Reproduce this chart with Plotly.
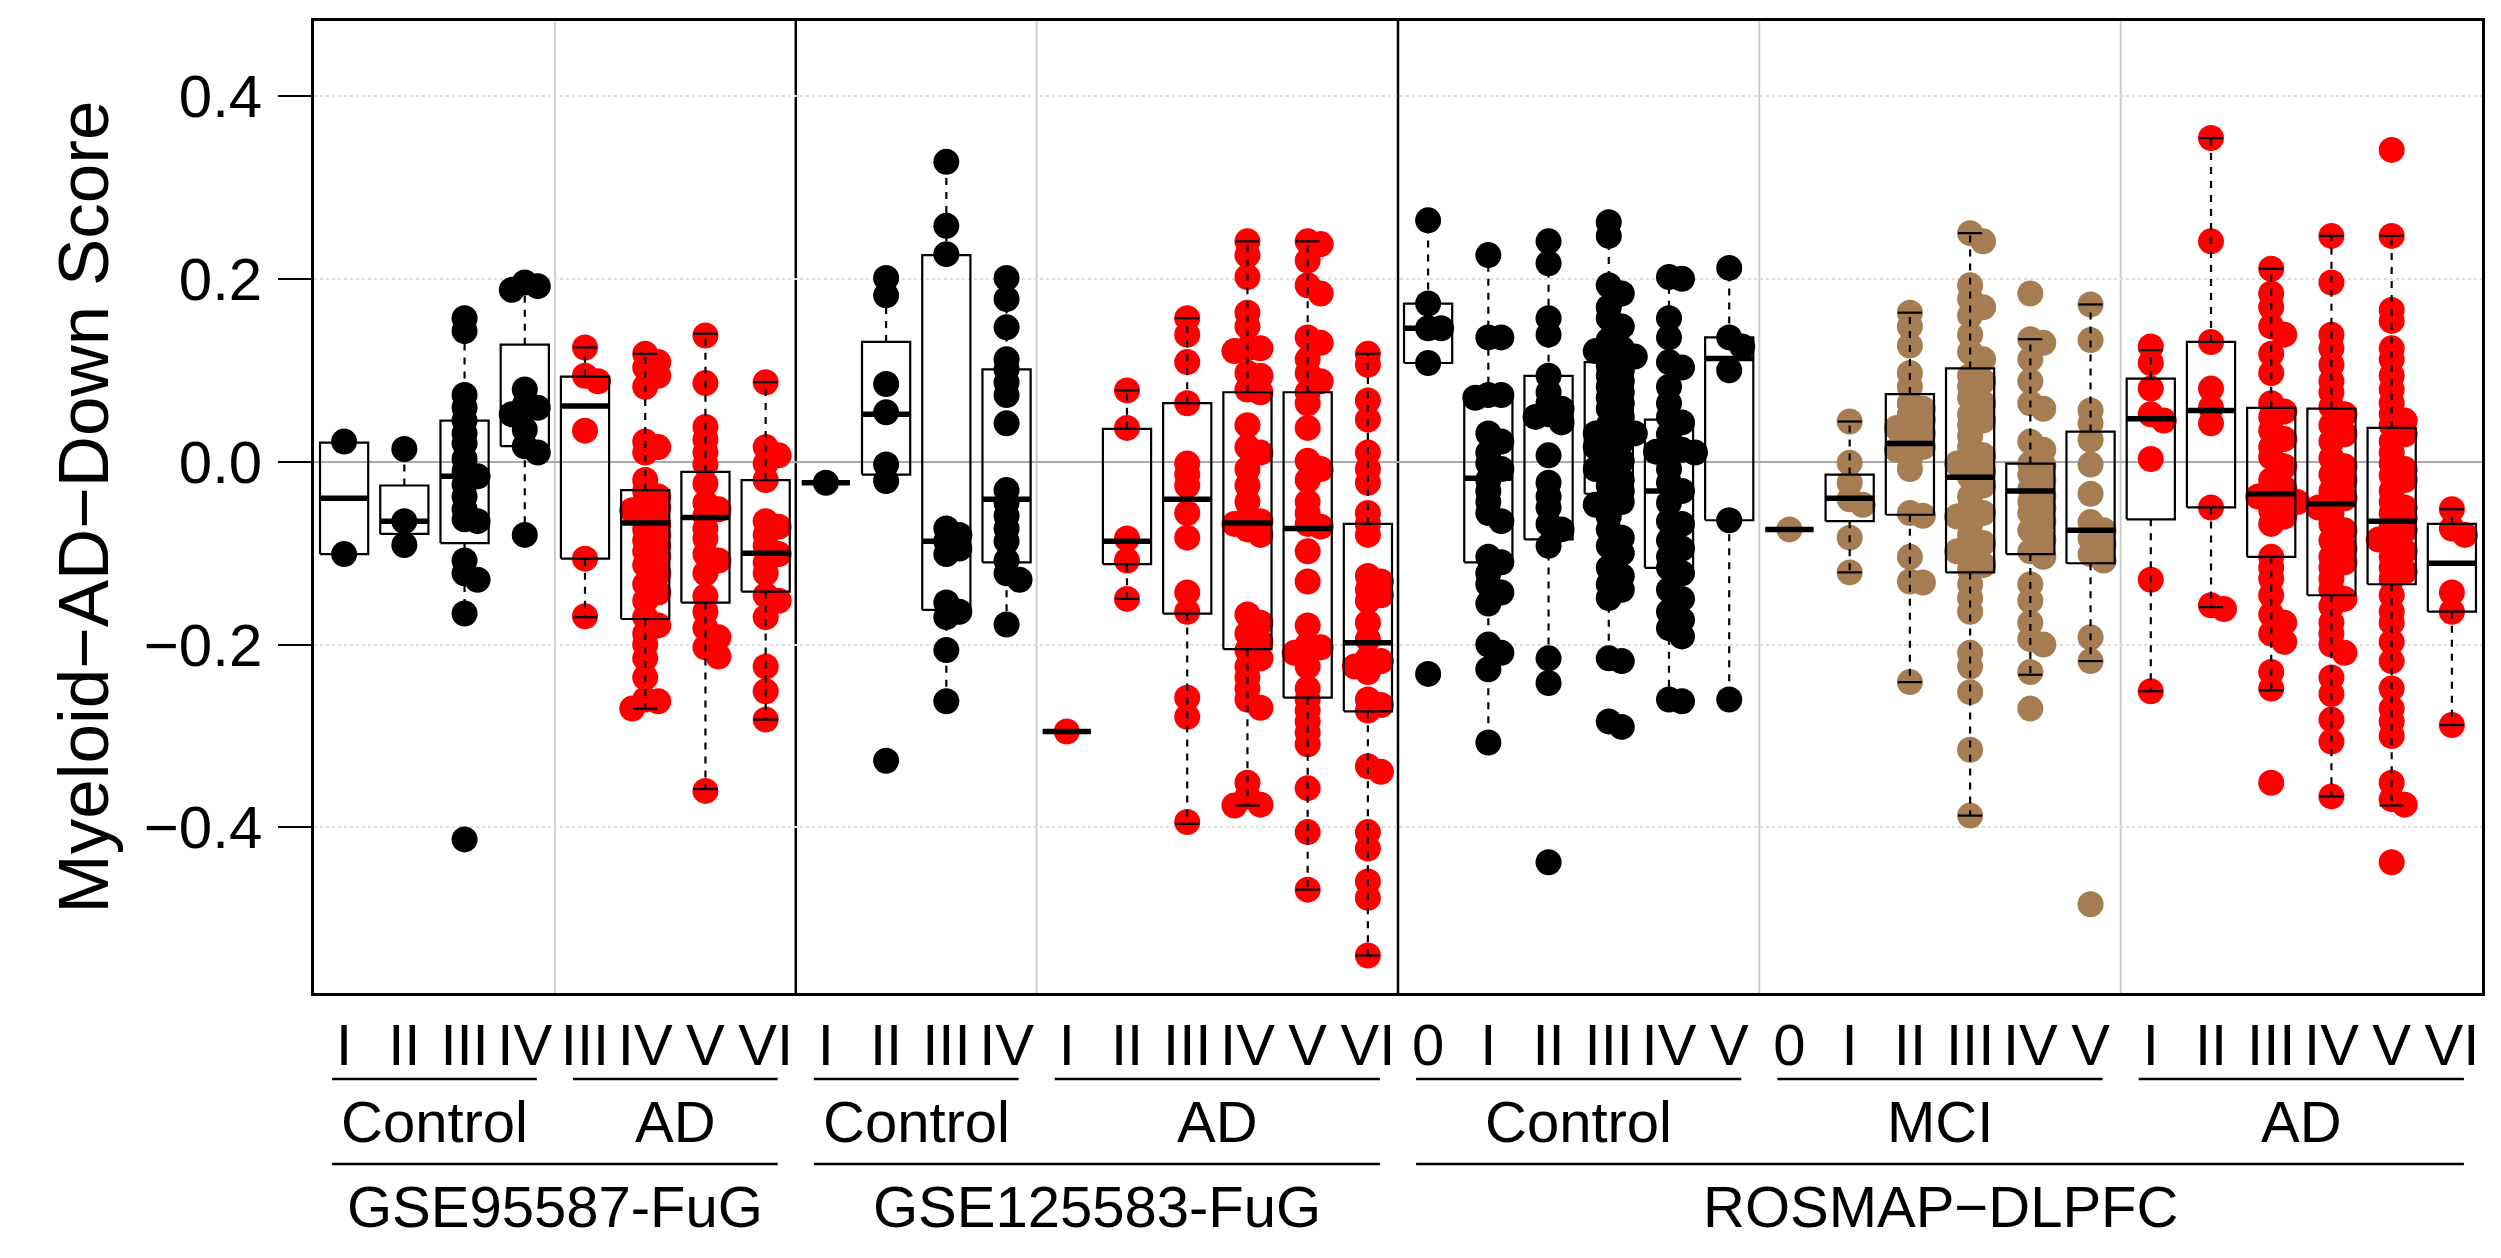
import numpy as np
import plotly.graph_objects as go

# ---------------- categories ----------------
dataset_names = ["GSE95587-FuG", "GSE125583-FuG", "ROSMAP−DLPFC"]
block_dataset = [0, 0, 1, 1, 2, 2, 2]
block_diagnosis = ["Control", "AD", "Control", "AD", "Control", "MCI", "AD"]
block_stages = [
    ["I", "II", "III", "IV"],
    ["III", "IV", "V", "VI"],
    ["I", "II", "III", "IV"],
    ["I", "II", "III", "IV", "V", "VI"],
    ["0", "I", "II", "III", "IV", "V"],
    ["0", "I", "II", "III", "IV", "V"],
    ["I", "II", "III", "IV", "V", "VI"],
]
diagnosis_colors = {"Control": "#000000", "AD": "#FF0000", "MCI": "#A67C52"}

# ---------------- point values (Myeloid-AD-Down score) ----------------
gse95587_control = [
    [0.022, -0.101],
    [0.014, -0.065, -0.091],
    [0.157, 0.143, 0.073, 0.059, 0.045, 0.031, 0.020, 0.003, -0.010, -0.016, -0.025,
     -0.038, -0.052, -0.063, -0.065, -0.108, -0.122, -0.129, -0.166, -0.413],
    [0.196, 0.192, 0.188, 0.079, 0.062, 0.059, 0.052, 0.035, 0.017, 0.010, -0.080],
]
gse95587_ad = [
    [0.125, 0.094, 0.088, 0.034, -0.106, -0.169],
    [0.118, 0.109, 0.103, 0.094, 0.082, 0.022, 0.016, 0.010, -0.020, -0.032, -0.038, -0.044,
     -0.050, -0.053, -0.059, -0.068, -0.074, -0.080, -0.086, -0.092, -0.098, -0.104, -0.113,
     -0.122, -0.134, -0.143, -0.152, -0.170, -0.179, -0.188, -0.200, -0.215, -0.236, -0.260,
     -0.262, -0.270],
    [0.138, 0.086, 0.038, 0.024, 0.010, -0.003, -0.024, -0.045, -0.052, -0.059, -0.073,
     -0.084, -0.101, -0.108, -0.122, -0.147, -0.164, -0.182, -0.192, -0.203, -0.213, -0.360],
    [0.087, 0.016, 0.007, -0.002, -0.020, -0.065, -0.071, -0.080, -0.092, -0.101, -0.110,
     -0.122, -0.146, -0.152, -0.170, -0.224, -0.251, -0.282],
]
gse125583_control = [
    [-0.023],
    [0.201, 0.182, 0.085, 0.054, -0.003, -0.021, -0.327],
    [0.328, 0.258, 0.227, -0.073, -0.080, -0.087, -0.095, -0.101, -0.154, -0.164, -0.170,
     -0.206, -0.262],
    [0.201, 0.178, 0.147, 0.112, 0.101, 0.087, 0.073, 0.042, -0.031, -0.045, -0.059, -0.073,
     -0.087, -0.108, -0.122, -0.129, -0.178],
]
gse125583_ad = [
    [-0.295],
    [0.078, 0.037, -0.084, -0.108, -0.150],
    [0.157, 0.139, 0.109, 0.064, -0.002, -0.014, -0.026, -0.056, -0.083, -0.143, -0.164,
     -0.258, -0.279, -0.394],
    [0.241, 0.226, 0.202, 0.163, 0.148, 0.124, 0.124, 0.121, 0.097, 0.094, 0.079, 0.076,
     0.040, 0.016, 0.010, -0.008, -0.026, -0.044, -0.062, -0.065, -0.068, -0.074, -0.080,
     -0.167, -0.176, -0.188, -0.197, -0.206, -0.215, -0.224, -0.236, -0.248, -0.260, -0.269,
     -0.351, -0.366, -0.375, -0.376],
    [0.241, 0.238, 0.220, 0.193, 0.184, 0.136, 0.130, 0.112, 0.097, 0.088, 0.076, 0.064,
     0.037, 0.001, -0.008, -0.020, -0.044, -0.056, -0.068, -0.071, -0.098, -0.131, -0.179,
     -0.200, -0.203, -0.209, -0.224, -0.248, -0.260, -0.272, -0.284, -0.296, -0.309, -0.357,
     -0.405, -0.468],
    [0.118, 0.106, 0.067, 0.046, 0.010, -0.008, -0.023, -0.056, -0.068, -0.080, -0.125,
     -0.131, -0.140, -0.146, -0.152, -0.176, -0.194, -0.215, -0.218, -0.224, -0.230, -0.260,
     -0.266, -0.272, -0.333, -0.339, -0.405, -0.423, -0.459, -0.477, -0.540],
]
rosmap_control = [
    [0.264, 0.173, 0.146, 0.146, 0.108, -0.232],
    [0.226, 0.136, 0.136, 0.073, 0.073, 0.070, 0.031, 0.022, 0.010, -0.002, -0.008, -0.020,
     -0.032, -0.044, -0.056, -0.065, -0.104, -0.110, -0.122, -0.134, -0.143, -0.155, -0.200,
     -0.209, -0.227, -0.307],
    [0.241, 0.217, 0.157, 0.139, 0.094, 0.076, 0.064, 0.058, 0.052, 0.049, 0.043, 0.007,
     -0.023, -0.038, -0.050, -0.068, -0.074, -0.092, -0.215, -0.242, -0.438],
    [0.262, 0.247, 0.193, 0.184, 0.169, 0.157, 0.148, 0.133, 0.124, 0.121, 0.121, 0.115,
     0.112, 0.105, 0.100, 0.094, 0.088, 0.082, 0.076, 0.070, 0.064, 0.058, 0.049, 0.040,
     0.034, 0.031, 0.031, 0.025, 0.022, 0.016, 0.010, 0.001, -0.002, -0.008, -0.014, -0.020,
     -0.026, -0.032, -0.038, -0.044, -0.047, -0.060, -0.074, -0.083, -0.092, -0.100, -0.116,
     -0.125, -0.134, -0.140, -0.149, -0.215, -0.218, -0.284, -0.290],
    [0.202, 0.200, 0.157, 0.136, 0.109, 0.103, 0.082, 0.064, 0.049, 0.043, 0.030, 0.016,
     0.013, 0.011, 0.010, -0.008, -0.023, -0.032, -0.045, -0.065, -0.068, -0.086, -0.095,
     -0.104, -0.116, -0.122, -0.140, -0.150, -0.164, -0.173, -0.182, -0.191, -0.260, -0.262],
    [0.212, 0.136, 0.126, 0.100, -0.064, -0.260],
]
rosmap_mci = [
    [-0.074],
    [0.044, -0.001, -0.023, -0.041, -0.047, -0.083, -0.121],
    [0.163, 0.148, 0.127, 0.097, 0.082, 0.064, 0.058, 0.052, 0.046, 0.040, 0.037, 0.031,
     0.022, 0.016, 0.013, 0.004, -0.008, -0.056, -0.059, -0.104, -0.131, -0.132, -0.241],
    [0.250, 0.241, 0.193, 0.178, 0.169, 0.160, 0.139, 0.120, 0.112, 0.094, 0.088, 0.082,
     0.070, 0.064, 0.052, 0.045, 0.040, 0.028, 0.016, 0.007, 0.000, -0.002, -0.010, -0.017,
     -0.026, -0.038, -0.050, -0.056, -0.060, -0.068, -0.080, -0.089, -0.095, -0.098, -0.107,
     -0.113, -0.118, -0.134, -0.149, -0.164, -0.209, -0.224, -0.252, -0.315, -0.387],
    [0.184, 0.134, 0.130, 0.112, 0.088, 0.064, 0.058, 0.022, 0.013, -0.002, -0.004, -0.014,
     -0.020, -0.030, -0.038, -0.044, -0.050, -0.056, -0.065, -0.075, -0.085, -0.098, -0.104,
     -0.134, -0.152, -0.176, -0.194, -0.200, -0.230, -0.270],
    [0.172, 0.133, 0.056, 0.042, 0.024, -0.003, -0.035, -0.066, -0.075, -0.084, -0.090,
     -0.101, -0.108, -0.192, -0.218, -0.484],
]
rosmap_ad = [
    [0.126, 0.108, 0.080, 0.052, 0.045, 0.003, -0.129, -0.251],
    [0.354, 0.241, 0.131, 0.080, 0.059, 0.042, -0.050, -0.157, -0.161],
    [0.211, 0.184, 0.169, 0.148, 0.139, 0.118, 0.097, 0.064, 0.055, 0.049, 0.034, 0.025,
     0.016, 0.005, -0.005, -0.020, -0.029, -0.035, -0.038, -0.040, -0.044, -0.053, -0.060,
     -0.068, -0.104, -0.116, -0.128, -0.146, -0.167, -0.176, -0.188, -0.197, -0.230, -0.248,
     -0.351],
    [0.247, 0.196, 0.139, 0.124, 0.106, 0.088, 0.076, 0.060, 0.052, 0.040, 0.030, 0.022,
     0.004, -0.005, -0.014, -0.020, -0.032, -0.040, -0.044, -0.050, -0.056, -0.068, -0.075,
     -0.086, -0.095, -0.104, -0.110, -0.116, -0.128, -0.140, -0.150, -0.158, -0.176, -0.188,
     -0.200, -0.209, -0.236, -0.254, -0.282, -0.306, -0.366],
    [0.341, 0.247, 0.166, 0.154, 0.124, 0.112, 0.094, 0.079, 0.064, 0.052, 0.045, 0.040,
     0.030, 0.022, 0.010, -0.002, -0.008, -0.015, -0.020, -0.032, -0.044, -0.050, -0.056,
     -0.062, -0.068, -0.075, -0.080, -0.085, -0.092, -0.098, -0.104, -0.116, -0.120, -0.128,
     -0.146, -0.164, -0.176, -0.197, -0.218, -0.248, -0.270, -0.284, -0.300, -0.351, -0.369,
     -0.375, -0.438],
    [-0.052, -0.073, -0.080, -0.143, -0.164, -0.288],
]
block_points = [gse95587_control, gse95587_ad, gse125583_control, gse125583_ad,
                rosmap_control, rosmap_mci, rosmap_ad]

# ---------------- box statistics (36 groups, in order) ----------------
box_q1 = [-0.101, -0.079, -0.089, 0.017, -0.106, -0.172, -0.154, -0.142,
          -0.023, -0.014, -0.162, -0.110, -0.295, -0.112, -0.166, -0.205, -0.258, -0.273,
          0.108, -0.110, -0.085, -0.035, -0.116, -0.064,
          -0.074, -0.065, -0.058, -0.121, -0.101, -0.111,
          -0.063, -0.050, -0.104, -0.146, -0.134, -0.164]
box_median = [-0.040, -0.065, -0.016, 0.059, 0.061, -0.067, -0.061, -0.100,
              -0.023, 0.052, -0.087, -0.041, -0.295, -0.087, -0.041, -0.067, -0.073, -0.198,
              0.146, -0.018, 0.049, 0.035, -0.032, 0.113,
              -0.074, -0.040, 0.020, -0.017, -0.032, -0.075,
              0.047, 0.056, -0.035, -0.046, -0.065, -0.111]
box_q3 = [0.021, -0.026, 0.045, 0.128, 0.093, -0.031, -0.011, -0.020,
          -0.023, 0.131, 0.226, 0.101, -0.295, 0.036, 0.064, 0.076, 0.076, -0.068,
          0.173, 0.070, 0.094, 0.109, 0.046, 0.136,
          -0.074, -0.014, 0.074, 0.102, -0.002, 0.033,
          0.091, 0.131, 0.059, 0.058, 0.037, -0.068]
whisker_low = [-0.101, -0.091, -0.166, -0.080, -0.170, -0.270, -0.358, -0.282,
               -0.023, -0.021, -0.262, -0.178, -0.295, -0.150, -0.396, -0.376, -0.468, -0.540,
               0.108, -0.307, -0.243, -0.213, -0.260, -0.260,
               -0.074, -0.121, -0.241, -0.387, -0.233, -0.218,
               -0.251, -0.159, -0.250, -0.366, -0.376, -0.288]
whisker_high = [0.021, 0.014, 0.157, 0.193, 0.125, 0.118, 0.140, 0.087,
                -0.023, 0.201, 0.328, 0.201, -0.295, 0.078, 0.157, 0.241, 0.241, 0.118,
                0.264, 0.226, 0.241, 0.258, 0.202, 0.212,
                -0.074, 0.044, 0.163, 0.250, 0.134, 0.172,
                0.122, 0.354, 0.211, 0.247, 0.247, -0.052]

# ---------------- geometry helpers ----------------
Y_RANGE = [-0.581, 0.482]
PX_PER_Y = 914.0
PX_PER_X = 60.2
BOX_HALF = 0.4
CAP_HALF = 0.2
MARKER = 26


def swarm_offsets(values, min_dist=10.0, step=13.0):
    vals = np.asarray(values, dtype=float)
    order = np.argsort(-vals, kind="stable")
    placed = []
    offs = np.zeros(len(vals))
    for idx in order:
        ypx = vals[idx] * PX_PER_Y
        best, best_score = 0.0, -1.0
        for k in [0, 1, -1, 2, -2]:
            xpx = k * step
            if placed:
                d = min(np.hypot(xpx - px, ypx - py) for px, py in placed)
            else:
                d = 1e9
            if d >= min_dist:
                best = xpx
                break
            if d > best_score:
                best_score, best = d, xpx
        placed.append((best, ypx))
        offs[idx] = best / PX_PER_X
    return offs


fig = go.Figure()

stage_labels = []
for stages in block_stages:
    stage_labels.extend(stages)
n_groups = len(stage_labels)
centers = np.arange(1, n_groups + 1)

# ---------------- points ----------------
gi = 0
for b, groups in enumerate(block_points):
    xs, ys = [], []
    for vals in groups:
        offs = swarm_offsets(vals)
        xs.extend((centers[gi] + offs).tolist())
        ys.extend(vals)
        gi += 1
    fig.add_trace(go.Scatter(
        x=xs, y=ys, mode="markers", hoverinfo="skip",
        marker=dict(size=MARKER, color=diagnosis_colors[block_diagnosis[b]], line=dict(width=0)),
    ))

# ---------------- boxes ----------------
bx, by, mx, my, wx, wy, cx, cy = [], [], [], [], [], [], [], []
for i, c in enumerate(centers):
    q1, md, q3 = box_q1[i], box_median[i], box_q3[i]
    lo, hi = whisker_low[i], whisker_high[i]
    bx += [c - BOX_HALF, c + BOX_HALF, c + BOX_HALF, c - BOX_HALF, c - BOX_HALF, None]
    by += [q1, q1, q3, q3, q1, None]
    mx += [c - BOX_HALF, c + BOX_HALF, None]
    my += [md, md, None]
    wx += [c, c, None, c, c, None]
    wy += [q3, hi, None, q1, lo, None]
    cx += [c - CAP_HALF, c + CAP_HALF, None, c - CAP_HALF, c + CAP_HALF, None]
    cy += [hi, hi, None, lo, lo, None]

fig.add_trace(go.Scatter(x=wx, y=wy, mode="lines", hoverinfo="skip",
                         line=dict(color="black", width=2.2, dash="7px,7px")))
fig.add_trace(go.Scatter(x=cx, y=cy, mode="lines", hoverinfo="skip",
                         line=dict(color="black", width=2.2)))
fig.add_trace(go.Scatter(x=bx, y=by, mode="lines", hoverinfo="skip",
                         line=dict(color="black", width=2.2)))
fig.add_trace(go.Scatter(x=mx, y=my, mode="lines", hoverinfo="skip",
                         line=dict(color="black", width=5.5)))

# ---------------- separators and group annotations ----------------
shapes, annotations = [], []
FONT = "Liberation Sans, Arial, Helvetica, sans-serif"
TOP_PX, BOT_PX = 21, 993
PLOT_H = BOT_PX - TOP_PX


def paper_y(px):
    return (BOT_PX - px) / PLOT_H


def paper_x(x):
    return (x - 0.5) / n_groups


start = 1
block_ranges = []
for b, stages in enumerate(block_stages):
    end = start + len(stages) - 1
    block_ranges.append((start, end))
    start = end + 1

for b in range(len(block_stages) - 1):
    boundary = block_ranges[b][1] + 0.5
    same_ds = block_dataset[b] == block_dataset[b + 1]
    shapes.append(dict(type="line", xref="x", yref="paper", x0=boundary, x1=boundary,
                       y0=0, y1=1, layer="below",
                       line=dict(color="#CCCCCC" if same_ds else "black",
                                 width=2 if same_ds else 2.5)))

for b, (s, e) in enumerate(block_ranges):
    shapes.append(dict(type="line", xref="paper", yref="paper",
                       x0=paper_x(s - 0.2), x1=paper_x(e + 0.2),
                       y0=paper_y(1079), y1=paper_y(1079),
                       line=dict(color="black", width=2.5)))
    annotations.append(dict(x=paper_x((s + e) / 2), y=paper_y(1121), xref="paper", yref="paper",
                            text=block_diagnosis[b], showarrow=False, xanchor="center",
                            yanchor="middle", font=dict(size=58, family=FONT, color="black")))

for d, name in enumerate(dataset_names):
    idx = [b for b in range(len(block_stages)) if block_dataset[b] == d]
    s = block_ranges[idx[0]][0]
    e = block_ranges[idx[-1]][1]
    shapes.append(dict(type="line", xref="paper", yref="paper",
                       x0=paper_x(s - 0.2), x1=paper_x(e + 0.2),
                       y0=paper_y(1164), y1=paper_y(1164),
                       line=dict(color="black", width=2.5)))
    annotations.append(dict(x=paper_x((s + e) / 2), y=paper_y(1206), xref="paper", yref="paper",
                            text=name, showarrow=False, xanchor="center",
                            yanchor="middle", font=dict(size=58, family=FONT, color="black")))

fig.update_layout(
    width=2501, height=1258,
    margin=dict(l=314, r=19, t=TOP_PX, b=1258 - BOT_PX),
    paper_bgcolor="white", plot_bgcolor="white",
    showlegend=False,
    font=dict(family=FONT, color="black"),
    shapes=shapes, annotations=annotations,
)
fig.update_xaxes(
    range=[0.5, n_groups + 0.5], tickmode="array", tickvals=centers.tolist(), ticktext=stage_labels,
    ticks="", tickfont=dict(size=58, family=FONT, color="black"),
    showgrid=False, zeroline=False, showline=True, linecolor="black", linewidth=2.5, mirror=True,
)
fig.update_yaxes(
    range=Y_RANGE, tickmode="array", tickvals=[-0.4, -0.2, 0.0, 0.2, 0.4], tickformat=".1f",
    ticks="outside", ticklen=33, tickwidth=2, tickcolor="black", ticklabelstandoff=4,
    tickfont=dict(size=60, family=FONT, color="black"),
    showgrid=True, gridcolor="#DDDDDD", griddash="dot", gridwidth=1.5,
    zeroline=True, zerolinecolor="#AAAAAA", zerolinewidth=2,
    showline=True, linecolor="black", linewidth=2.5, mirror=True,
    title=dict(text="Myeloid−AD−Down Score", font=dict(size=71, family=FONT, color="black"),
               standoff=12),
)

fig.write_html("out.html")
